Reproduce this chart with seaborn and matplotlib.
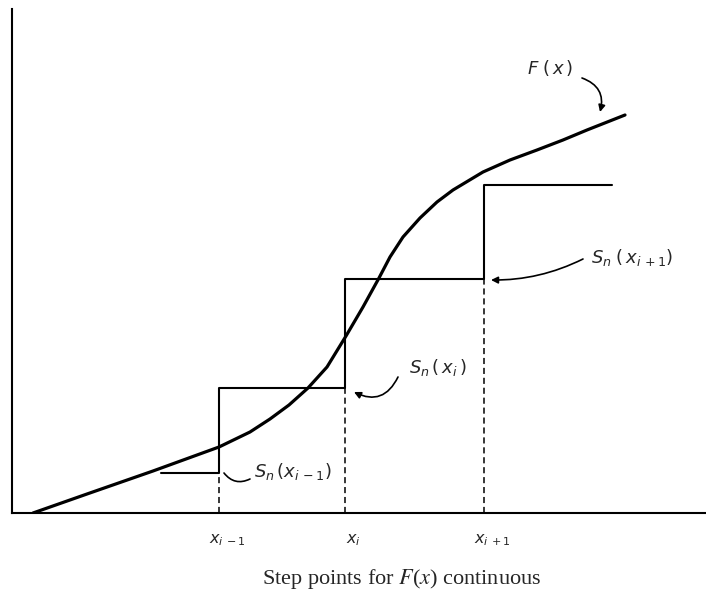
import numpy as np
import matplotlib
matplotlib.use("Agg")
import matplotlib.pyplot as plt
import seaborn as sns

sns.set_theme(style="white")
plt.rcParams["font.family"] = ["DejaVu Sans"]
plt.rcParams["mathtext.fontset"] = "dejavusans"

# -----------------------------
# DATA (arbitrary units)
# -----------------------------

# continuous distribution function F(x)
curve_x = [0.21, 0.75, 1.41, 2.07, 2.38, 2.58, 2.77, 2.96, 3.15, 3.34, 3.51,
           3.67, 3.78, 3.91, 4.08, 4.25, 4.41, 4.71, 4.98, 5.25, 5.51, 5.75,
           6.13]
curve_y = [0.00, 0.19, 0.42, 0.66, 0.81, 0.94, 1.08, 1.25, 1.46, 1.77, 2.06,
           2.35, 2.56, 2.76, 2.95, 3.11, 3.23, 3.41, 3.53, 3.63, 3.73, 3.83,
           3.98]

# empirical step function S_n(x)
step_x = [1.49, 2.07, 3.33, 4.72, 6.00]
step_y = [0.405, 1.25, 2.34, 3.28, 3.28]

# step points x_{i-1}, x_i, x_{i+1}
tick_pos = step_x[1:4]
tick_labels = [r"$x_{i\,-1}$", r"$x_i$", r"$x_{i\,+1}$"]

# -----------------------------
# FIGURE
# -----------------------------

fig = plt.figure(figsize=(7.06, 5.95), dpi=100)
ax = fig.add_axes([12 / 706, 82 / 595, 694 / 706, 504 / 595])
ax.set_xlim(0, 6.94)
ax.set_ylim(0, 5.04)

sns.lineplot(x=curve_x, y=curve_y, ax=ax, color="black", linewidth=2.3,
             sort=False, estimator=None)
sns.lineplot(x=step_x, y=step_y, ax=ax, color="black", linewidth=1.5,
             drawstyle="steps-post", sort=False, estimator=None)

# dashed drop lines from each step point to the axis
ax.vlines(tick_pos, 0, step_y[0:3], colors="black", linestyles=(0, (4, 2.5)),
          linewidth=1.1)

for s in ["top", "right"]:
    ax.spines[s].set_visible(False)
for s in ["left", "bottom"]:
    ax.spines[s].set_color("black")
    ax.spines[s].set_linewidth(1.5)

ax.set_yticks([])
ax.set_xticks([p + 0.08 for p in tick_pos])
ax.set_xticklabels(tick_labels, fontsize=11.5)
ax.tick_params(axis="x", length=0, pad=14)

# -----------------------------
# LABELS AND ARROWS
# -----------------------------

arrow = dict(arrowstyle="-|>", color="black", lw=1.2, shrinkA=0, shrinkB=0,
             mutation_scale=10)

ax.text(5.38, 4.45, r"$F\;(\,x\,)$", fontsize=13, ha="center", va="center")
ax.annotate("", xy=(5.88, 4.01), xytext=(5.70, 4.35),
            arrowprops=dict(arrow, connectionstyle="arc3,rad=-0.45"))

ax.text(6.20, 2.55, r"$S_n\;(\,x_{i\,+1})$", fontsize=13, ha="center",
        va="center")
ax.annotate("", xy=(4.79, 2.33), xytext=(5.71, 2.54),
            arrowprops=dict(arrow, connectionstyle="arc3,rad=-0.12"))

ax.text(4.26, 1.46, r"$S_n\,(\,x_i\,)$", fontsize=13, ha="center",
        va="center")
ax.annotate("", xy=(3.42, 1.21), xytext=(3.86, 1.36),
            arrowprops=dict(arrow, connectionstyle="arc3,rad=-0.5"))

ax.text(2.81, 0.41, r"$S_n\,(x_{i\,-1})$", fontsize=13, ha="center",
        va="center")
ax.annotate("", xy=(2.38, 0.34), xytext=(2.12, 0.40),
            arrowprops=dict(arrowstyle="-", color="black", lw=1.2,
                            shrinkA=0, shrinkB=0,
                            connectionstyle="arc3,rad=0.4"))

fig.text(402 / 706, 1 - 579 / 595, r"Step points for $F$($x$) continuous",
         family="Liberation Serif", math_fontfamily="stix", fontsize=16,
         ha="center", va="center")

fig.savefig("out.png", dpi=100)
